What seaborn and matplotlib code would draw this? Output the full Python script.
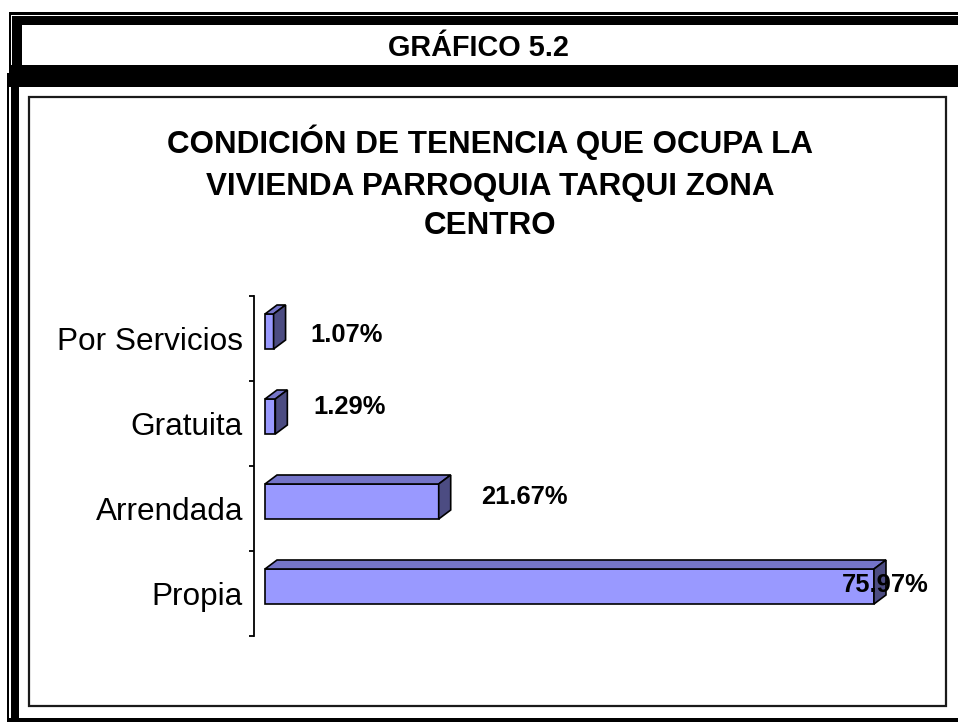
import numpy as np
import pandas as pd
import matplotlib
matplotlib.use("Agg")
import matplotlib.pyplot as plt
import seaborn as sns
from matplotlib.patches import Rectangle, Polygon
from matplotlib.transforms import IdentityTransform

# ---------------- data ----------------
categories = ["Por Servicios", "Gratuita", "Arrendada", "Propia"]
values = [1.07, 1.29, 21.67, 75.97]
value_labels = ["1.07%", "1.29%", "21.67%", "75.97%"]
header_text = "GRÁFICO 5.2"
title_lines = ["CONDICIÓN DE TENENCIA QUE OCUPA LA",
               "VIVIENDA PARROQUIA TARQUI ZONA",
               "CENTRO"]

# ---------------- style ----------------
W, H = 958, 722
sns.set_theme(style="white")
plt.rcParams['font.family'] = ['Liberation Sans', 'DejaVu Sans']

FRONT = "#9999FF"
TOP = "#7474C8"
SIDE = "#4C4C82"
PT = 0.72  # points per pixel at dpi 100

fig = plt.figure(figsize=(W / 100, H / 100), dpi=100)
fig.patch.set_facecolor("white")


def fx(x):
    return x / W


def fy(y):
    return 1 - y / H


def black_rect(x0, y0, x1, y1, color="black"):
    fig.add_artist(Rectangle((fx(x0), fy(y1)), (x1 - x0) / W, (y1 - y0) / H,
                             transform=fig.transFigure, facecolor=color,
                             edgecolor="none", zorder=0))


# ---------------- frames ----------------
black_rect(9, 12, 958, 15)      # outer thin top
black_rect(9, 12, 11, 73)       # outer thin left (header)
black_rect(12, 16, 958, 25)     # thick top
black_rect(12, 16, 22, 66)      # thick left (header)
black_rect(9, 65, 958, 73)      # band
black_rect(7, 73, 958, 87)      # band lower part
black_rect(7, 73, 9, 722)       # lower thin left
black_rect(11, 73, 19, 722)     # lower thick left
black_rect(7, 718, 958, 722)    # bottom band

# inner box
fig.add_artist(Rectangle((fx(29), fy(706)), (946 - 29) / W, (706 - 97) / H,
                         transform=fig.transFigure, facecolor="none",
                         edgecolor="#1a1a1a", linewidth=1.6, zorder=1))

# header text
fig.text(fx(478), fy(56), header_text, ha="center", va="baseline",
         fontsize=20.8, fontweight="bold", color="black")

# title
for line, base in zip(title_lines, [153, 194.5, 233.5]):
    fig.text(fx(490), fy(base), line, ha="center", va="baseline",
             fontsize=22.6, fontweight="bold", color="black")

# ---------------- axes ----------------
ax_left, ax_top, ax_bot = 254, 296, 636
zero_px = 265
ppu = 8.016
xmin = -(zero_px - ax_left) / ppu
xmax = 80
ax_right = zero_px + xmax * ppu
ax = fig.add_axes([fx(ax_left), fy(ax_bot), (ax_right - ax_left) / W,
                   (ax_bot - ax_top) / H])
ax.set_facecolor("none")

df = pd.DataFrame({"categoria": categories, "valor": values})
sns.barplot(data=df, x="valor", y="categoria", order=categories, orient="h",
            color=FRONT, saturation=1, width=35 / 85, edgecolor="black",
            linewidth=1.2, ax=ax, zorder=3)
ax.set_xlim(xmin, xmax)
ax.set_ylim(3.5, -0.5)

band_px = (ax_bot - ax_top) / len(categories)
for p in ax.patches:
    p.set_y(p.get_y() - 7 / band_px)
    p.set_clip_on(False)

for s in ["top", "right", "bottom"]:
    ax.spines[s].set_visible(False)
ax.spines["left"].set_color("black")
ax.spines["left"].set_linewidth(1.3)
ax.set_xticks([])
ax.set_xlabel("")
ax.set_ylabel("")
ax.set_yticks(range(len(categories)))
ax.set_yticklabels(categories, fontsize=22.7, color="black")
ax.set_yticks(np.arange(-0.5, len(categories), 1.0), minor=True)
ax.tick_params(axis="y", which="major", left=True, length=0, pad=11 * PT)
ax.tick_params(axis="y", which="minor", left=True, length=5 * PT,
               width=1.3, color="black", direction="out")

# 3D faces (top and side of each bar)
fig.canvas.draw()
dx, dy = 12, 9
bars = list(ax.patches)
for p in bars:
    x0, y0 = p.get_x(), p.get_y()
    w, h = p.get_width(), p.get_height()
    (X0, Yt), (X1, Yb) = ax.transData.transform([(x0, y0), (x0 + w, y0 + h)])
    top = Polygon([(X0, Yt), (X1, Yt), (X1 + dx, Yt + dy), (X0 + dx, Yt + dy)],
                  closed=True, facecolor=TOP, edgecolor="black", linewidth=1.2,
                  transform=IdentityTransform(), zorder=4, clip_on=False)
    side = Polygon([(X1, Yt), (X1, Yb), (X1 + dx, Yb + dy), (X1 + dx, Yt + dy)],
                   closed=True, facecolor=SIDE, edgecolor="black", linewidth=1.2,
                   transform=IdentityTransform(), zorder=4, clip_on=False)
    ax.add_artist(top)
    ax.add_artist(side)

# value labels (offsets in pixels from bar end / category centre)
label_offsets_px = [(73, -3.5), (74, -16.5), (86, -11), (11, -9)]
for i, (v, lbl) in enumerate(zip(values, value_labels)):
    ox, oy = label_offsets_px[i]
    ax.annotate(lbl, xy=(v, i), xytext=(ox * PT, -oy * PT),
                textcoords="offset points", ha="center", va="center",
                fontsize=18.4, fontweight="bold", color="black",
                annotation_clip=False, zorder=6)

fig.savefig("out.png", dpi=100)
